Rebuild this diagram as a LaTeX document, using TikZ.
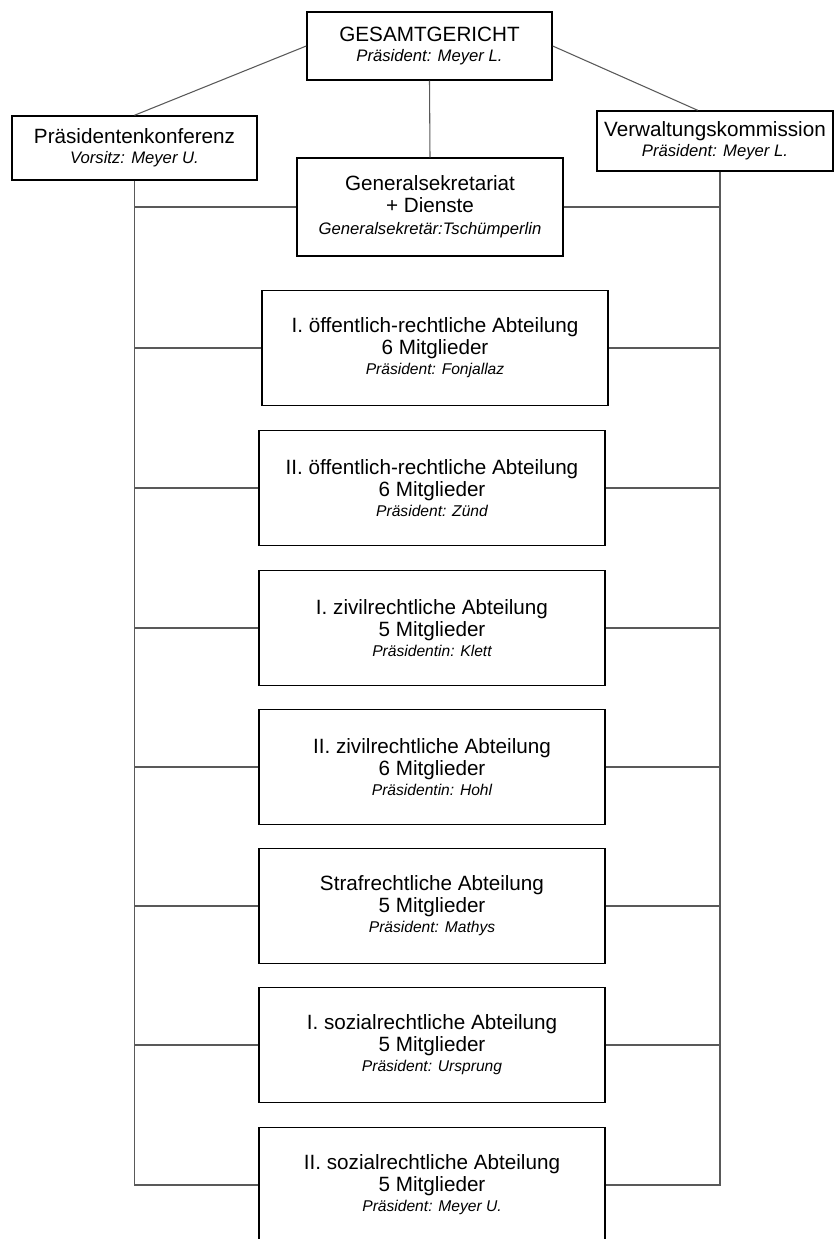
\documentclass[tikz,border=0pt]{standalone}
\usepackage{fontspec}
\setmainfont{Liberation Sans}
\usetikzlibrary{calc}
\tikzstyle{courtbox}=[
      rectangle,
      draw=black,
      line width=1.1pt,
      fill=white,
      align=center,
      inner sep=0pt,
      font=\fontsize{15.5}{16.5}\selectfont
      ]
\tikzstyle{divbox}=[
      courtbox,
      minimum width=259.5pt,
      minimum height=86.25pt
      ]
\tikzstyle{link}=[
      draw=black!65,
      line width=0.8pt
      ]
\newcommand{\headnote}[1]{{\fontsize{12.5}{14}\selectfont\itshape #1}}
\newcommand{\divnote}[1]{{\fontsize{11.7}{13}\selectfont\itshape #1}}

\begin{document}
\begin{tikzpicture}[x=0.75pt,y=-0.75pt]
\useasboundingbox (0,0) rectangle (834,1239);

\node [courtbox, minimum width=183.75pt, minimum height=51pt] (gesamt) at (429.5,46)
  {GESAMTGERICHT\\[-1.5pt]\headnote{Präsident: Meyer L.}};
\node [courtbox, minimum width=183.75pt, minimum height=48pt] (praesikonf) at (134.5,148)
  {Präsidentenkonferenz\\[-1.5pt]\headnote{Vorsitz: Meyer U.}};
\node [courtbox, minimum width=177pt, minimum height=45pt] (verwaltung) at (715,141)
  {Verwaltungskommission\\[-1.5pt]\headnote{Präsident: Meyer L.}};
\node [courtbox, minimum width=199.5pt, minimum height=73.5pt] (gensek) at (430,207)
  {Generalsekretariat\\+ Dienste\\\headnote{Generalsekretär:Tschümperlin}};

\node [divbox] (div1) at (435,348)
  {I. öffentlich-rechtliche Abteilung\\6 Mitglieder\\[-1.5pt]\divnote{Präsident: Fonjallaz}};
\node [divbox] (div2) at (432,488)
  {II. öffentlich-rechtliche Abteilung\\6 Mitglieder\\[-1.5pt]\divnote{Präsident: Zünd}};
\node [divbox] (div3) at (432,628)
  {I. zivilrechtliche Abteilung\\5 Mitglieder\\[-1.5pt]\divnote{Präsidentin: Klett}};
\node [divbox] (div4) at (432,767)
  {II. zivilrechtliche Abteilung\\6 Mitglieder\\[-1.5pt]\divnote{Präsidentin: Hohl}};
\node [divbox] (div5) at (432,906)
  {Strafrechtliche Abteilung\\5 Mitglieder\\[-1.5pt]\divnote{Präsident: Mathys}};
\node [divbox] (div6) at (432,1045)
  {I. sozialrechtliche Abteilung\\5 Mitglieder\\[-1.5pt]\divnote{Präsident: Ursprung}};
\node [divbox] (div7) at (432,1185)
  {II. sozialrechtliche Abteilung\\5 Mitglieder\\[-1.5pt]\divnote{Präsident: Meyer U.}};

\coordinate (lbus) at (135,1185);
\coordinate (rbus) at (720,1185);

\draw [link] (gesamt.west) -- (praesikonf.north);
\draw [link] (gesamt.east) -- ([xshift=-13]verwaltung.north);
\draw [link] (gesamt.south) -- (gensek.north);
\draw [link] (praesikonf.south) |- (div7.west);
\draw [link] (verwaltung.south -| rbus) |- (div7.east);
\draw [link] (gensek.west) -- (gensek.west -| lbus);
\draw [link] (gensek.east) -- (gensek.east -| rbus);
\draw [link] (div1.west) -- (div1.west -| lbus);
\draw [link] (div1.east) -- (div1.east -| rbus);
\draw [link] (div2.west) -- (div2.west -| lbus);
\draw [link] (div2.east) -- (div2.east -| rbus);
\draw [link] (div3.west) -- (div3.west -| lbus);
\draw [link] (div3.east) -- (div3.east -| rbus);
\draw [link] (div4.west) -- (div4.west -| lbus);
\draw [link] (div4.east) -- (div4.east -| rbus);
\draw [link] (div5.west) -- (div5.west -| lbus);
\draw [link] (div5.east) -- (div5.east -| rbus);
\draw [link] (div6.west) -- (div6.west -| lbus);
\draw [link] (div6.east) -- (div6.east -| rbus);
\end{tikzpicture}
\end{document}
